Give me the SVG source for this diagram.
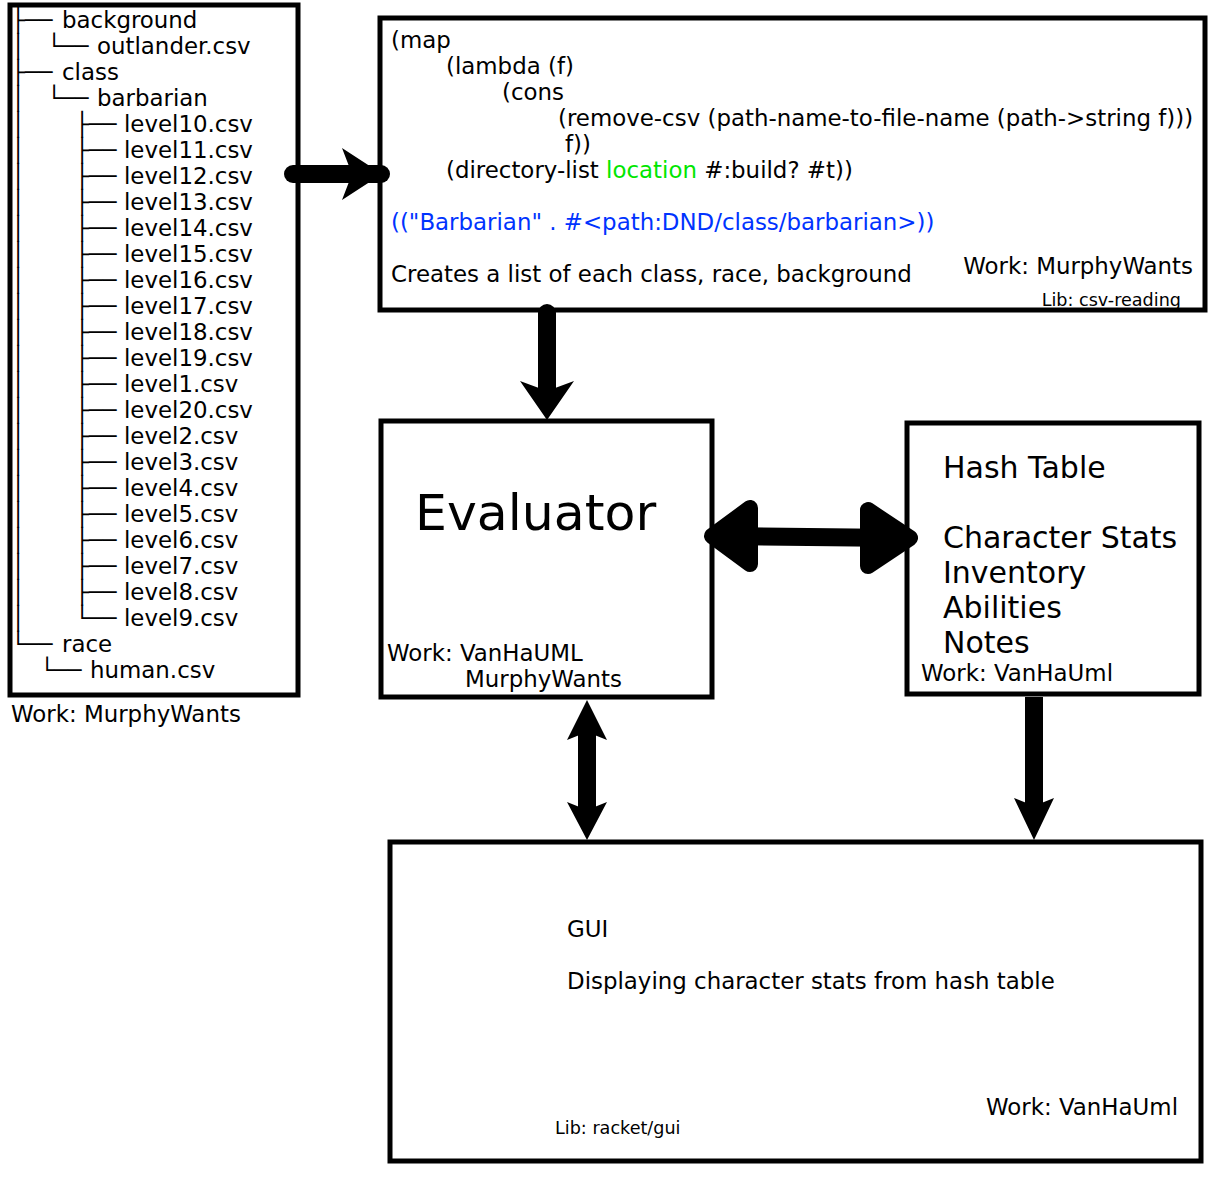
<svg xmlns="http://www.w3.org/2000/svg" width="1220" height="1178" viewBox="0 0 1220 1178">
<style>
text{font-family:"DejaVu Sans","Liberation Sans",sans-serif;font-size:22.9px;fill:#000}
.box{fill:#fff;stroke:#000;stroke-width:5}
.sm{font-size:17.6px}
.big{font-size:30px}
.huge{font-size:50.5px}
.blue{fill:#0033ff}
.green{fill:#00e600}
.shaft{stroke:#000;stroke-width:18;fill:none}
.head{fill:#000;stroke:none}
.rhead{fill:#000;stroke:#000;stroke-width:16;stroke-linejoin:round}
</style>
<rect width="1220" height="1178" fill="#fff"/>
<g id="tree">
<rect class="box" x="10" y="5" width="288" height="690"/>
<text xml:space="preserve">
<tspan x="11.2" y="28">├──</tspan><tspan x="62" y="28">background</tspan>
<tspan x="11.2" y="54">│</tspan><tspan x="47.2" y="54">└──</tspan><tspan x="97" y="54">outlander.csv</tspan>
<tspan x="11.2" y="80">├──</tspan><tspan x="62" y="80">class</tspan>
<tspan x="11.2" y="106">│</tspan><tspan x="47.2" y="106">└──</tspan><tspan x="97" y="106">barbarian</tspan>
<tspan x="11.2" y="132">│</tspan><tspan x="75.2" y="132">├──</tspan><tspan x="124" y="132">level10.csv</tspan>
<tspan x="11.2" y="158">│</tspan><tspan x="75.2" y="158">├──</tspan><tspan x="124" y="158">level11.csv</tspan>
<tspan x="11.2" y="184">│</tspan><tspan x="75.2" y="184">├──</tspan><tspan x="124" y="184">level12.csv</tspan>
<tspan x="11.2" y="210">│</tspan><tspan x="75.2" y="210">├──</tspan><tspan x="124" y="210">level13.csv</tspan>
<tspan x="11.2" y="236">│</tspan><tspan x="75.2" y="236">├──</tspan><tspan x="124" y="236">level14.csv</tspan>
<tspan x="11.2" y="262">│</tspan><tspan x="75.2" y="262">├──</tspan><tspan x="124" y="262">level15.csv</tspan>
<tspan x="11.2" y="288">│</tspan><tspan x="75.2" y="288">├──</tspan><tspan x="124" y="288">level16.csv</tspan>
<tspan x="11.2" y="314">│</tspan><tspan x="75.2" y="314">├──</tspan><tspan x="124" y="314">level17.csv</tspan>
<tspan x="11.2" y="340">│</tspan><tspan x="75.2" y="340">├──</tspan><tspan x="124" y="340">level18.csv</tspan>
<tspan x="11.2" y="366">│</tspan><tspan x="75.2" y="366">├──</tspan><tspan x="124" y="366">level19.csv</tspan>
<tspan x="11.2" y="392">│</tspan><tspan x="75.2" y="392">├──</tspan><tspan x="124" y="392">level1.csv</tspan>
<tspan x="11.2" y="418">│</tspan><tspan x="75.2" y="418">├──</tspan><tspan x="124" y="418">level20.csv</tspan>
<tspan x="11.2" y="444">│</tspan><tspan x="75.2" y="444">├──</tspan><tspan x="124" y="444">level2.csv</tspan>
<tspan x="11.2" y="470">│</tspan><tspan x="75.2" y="470">├──</tspan><tspan x="124" y="470">level3.csv</tspan>
<tspan x="11.2" y="496">│</tspan><tspan x="75.2" y="496">├──</tspan><tspan x="124" y="496">level4.csv</tspan>
<tspan x="11.2" y="522">│</tspan><tspan x="75.2" y="522">├──</tspan><tspan x="124" y="522">level5.csv</tspan>
<tspan x="11.2" y="548">│</tspan><tspan x="75.2" y="548">├──</tspan><tspan x="124" y="548">level6.csv</tspan>
<tspan x="11.2" y="574">│</tspan><tspan x="75.2" y="574">├──</tspan><tspan x="124" y="574">level7.csv</tspan>
<tspan x="11.2" y="600">│</tspan><tspan x="75.2" y="600">├──</tspan><tspan x="124" y="600">level8.csv</tspan>
<tspan x="11.2" y="626">│</tspan><tspan x="75.2" y="626">└──</tspan><tspan x="124" y="626">level9.csv</tspan>
<tspan x="11.2" y="652">└──</tspan><tspan x="62" y="652">race</tspan>
<tspan x="40.2" y="678">└──</tspan><tspan x="90" y="678">human.csv</tspan>
</text>
<text x="11" y="722">Work: MurphyWants</text>
</g>
<g id="code">
<rect class="box" x="380" y="18" width="825" height="292"/>
<text x="391" y="48">(map</text>
<text x="446" y="74">(lambda (f)</text>
<text x="502" y="100">(cons</text>
<text x="558" y="126">(remove-csv (path-name-to-file-name (path-&gt;string f)))</text>
<text x="565" y="152">f))</text>
<text x="446" y="178">(directory-list <tspan class="green">location</tspan> #:build? #t))</text>
<text class="blue" x="391" y="230">(("Barbarian" . #&lt;path:DND/class/barbarian&gt;))</text>
<text x="391" y="282">Creates a list of each class, race, background</text>
<text x="1193" y="274" text-anchor="end">Work: MurphyWants</text>
<text class="sm" x="1181" y="306" text-anchor="end">Lib: csv-reading</text>
</g>
<g id="evaluator">
<rect class="box" x="381" y="421" width="331" height="276"/>
<text class="huge" x="415" y="530">Evaluator</text>
<text x="387" y="661">Work: VanHaUML</text>
<text x="465" y="687">MurphyWants</text>
</g>
<g id="hashtable">
<rect class="box" x="907" y="423" width="292" height="271"/>
<text class="big" x="943" y="478">Hash Table</text>
<text class="big" x="943" y="548">Character Stats</text>
<text class="big" x="943" y="583">Inventory</text>
<text class="big" x="943" y="618">Abilities</text>
<text class="big" x="943" y="653">Notes</text>
<text x="921" y="681">Work: VanHaUml</text>
</g>
<g id="gui">
<rect class="box" x="390" y="842" width="811" height="319"/>
<text x="567" y="937">GUI</text>
<text x="567" y="989">Displaying character stats from hash table</text>
<text x="1178" y="1115" text-anchor="end">Work: VanHaUml</text>
<text class="sm" x="555" y="1134">Lib: racket/gui</text>
</g>
<g id="connectors">
<line class="shaft" x1="293" y1="174" x2="381" y2="174" stroke-linecap="round"/>
<polygon class="head" points="382,174 342,148 352,174 342,200"/>
<line class="shaft" x1="547" y1="313" x2="547" y2="395" stroke-linecap="round"/>
<polygon class="head" points="547,420 520,381 547,391 574,381"/>
<line class="shaft" x1="720" y1="536" x2="900" y2="538" stroke-width="20"/>
<polygon class="rhead" points="712,536 750,508 750,564"/>
<polygon class="rhead" points="910,538 868,510 868,566"/>
<line class="shaft" x1="587" y1="728" x2="587" y2="812"/>
<polygon class="head" points="587,700 567,740 587,732 607,740"/>
<polygon class="head" points="587,840 567,802 587,810 607,802"/>
<line class="shaft" x1="1034" y1="697" x2="1034" y2="808"/>
<polygon class="head" points="1034,840 1014,798 1034,806 1054,798"/>
</g>
</svg>
